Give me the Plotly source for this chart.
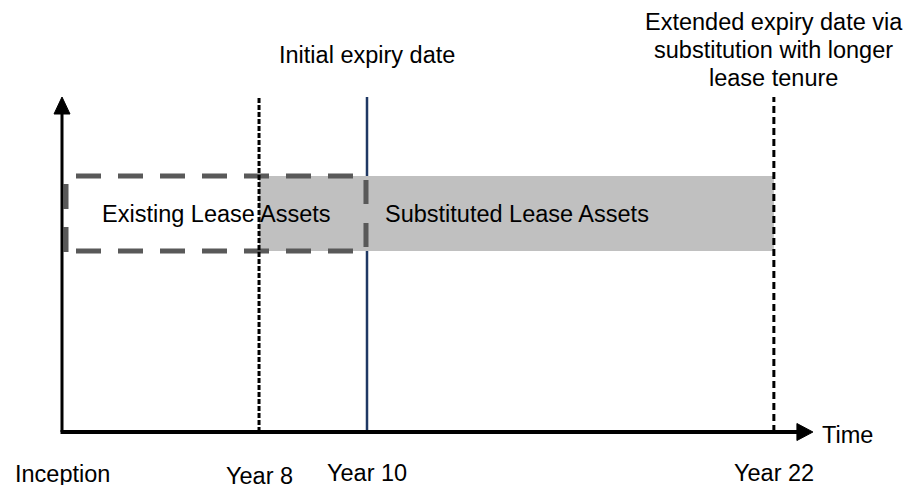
import plotly.graph_objects as go

# ---- data (schematic timeline units) ----
milestone_labels = ["Inception", "Year 8", "Year 10", "Year 22"]
milestone_pos = [0.0, 6.46, 10.0, 23.34]          # schematic time positions
label_levels = [-1.254, -1.313, -1.224, -1.224]

existing_span = [0.131, 9.967]     # existing lease assets (inception -> year 10)
substituted_span = [6.46, 23.34]   # substituted lease assets (year 8 -> year 22)
band_levels = [5.403, 7.642]       # lower / upper edge of the lease blocks
top_level = 10.0                   # height of the milestone lines
axis_end = 24.62

band_texts = ["Existing Lease Assets", "Substituted Lease Assets"]
band_text_x = [5.08, 10.52]
initial_text = "Initial expiry date"
extended_lines = ["Extended expiry date via", "substitution with longer", "lease tenure"]
extended_levels = [12.239, 11.403, 10.567]

FONT = dict(family="Liberation Sans, Arial, sans-serif", size=23.5, color="black")

fig = go.Figure()
fig.add_trace(go.Scatter(x=[0], y=[0], mode="markers", marker=dict(opacity=0),
                         showlegend=False, hoverinfo="skip"))

ux = 1 / 30.5   # one pixel in x units
uy = 1 / 33.5   # one pixel in y units

shapes = []
# navy initial expiry line (below band)
shapes.append(dict(type="line", xref="x", yref="y", x0=milestone_pos[2], x1=milestone_pos[2],
                   y0=0, y1=top_level, line=dict(color="#1F3864", width=2.5)))
# gray substituted band
shapes.append(dict(type="rect", xref="x", yref="y", x0=substituted_span[0], x1=substituted_span[1],
                   y0=band_levels[0], y1=band_levels[1], fillcolor="#C0C0C0", line=dict(width=0)))
# dashed existing box, drawn side by side
box_line = dict(color="#595959", width=5, dash="25px,17px")
x_l, x_r = existing_span
y_b, y_t = band_levels
shapes.append(dict(type="line", xref="x", yref="y", x0=x_l + 10 * ux, x1=x_r - 13 * ux,
                   y0=y_t, y1=y_t, line=box_line))
shapes.append(dict(type="line", xref="x", yref="y", x0=x_l + 10 * ux, x1=x_r - 13 * ux,
                   y0=y_b, y1=y_b, line=box_line))
shapes.append(dict(type="line", xref="x", yref="y", x0=x_l, x1=x_l,
                   y0=y_t - 8 * uy, y1=y_b - 1 * uy, line=dict(color="#595959", width=5, dash="25px,18px")))
shapes.append(dict(type="line", xref="x", yref="y", x0=x_r, x1=x_r,
                   y0=y_t - 4 * uy, y1=y_b + 3 * uy, line=dict(color="#595959", width=5, dash="24px,19px")))
# year 8 dotted line
shapes.append(dict(type="line", xref="x", yref="y", x0=milestone_pos[1], x1=milestone_pos[1],
                   y0=0, y1=top_level, line=dict(color="black", width=3, dash="5px,2px")))
# year 22 dashed line
shapes.append(dict(type="line", xref="x", yref="y", x0=milestone_pos[3], x1=milestone_pos[3],
                   y0=0, y1=top_level, line=dict(color="black", width=3, dash="7px,4px")))
# axes
shapes.append(dict(type="line", xref="x", yref="y", x0=0, x1=0, y0=0, y1=top_level - 15 * uy,
                   line=dict(color="black", width=3)))
shapes.append(dict(type="line", xref="x", yref="y", x0=-1.5 * ux, x1=axis_end - 15 * ux, y0=0, y1=0,
                   line=dict(color="black", width=4)))
shapes.append(dict(type="path", xref="x", yref="y",
                   path=f"M {-8*ux} {top_level-17*uy} L {8*ux} {top_level-17*uy} L 0 {top_level} Z",
                   fillcolor="black", line=dict(color="black", width=1)))
shapes.append(dict(type="path", xref="x", yref="y",
                   path=f"M {axis_end-16*ux} {8.5*uy} L {axis_end-16*ux} {-8.5*uy} L {axis_end} 0 Z",
                   fillcolor="black", line=dict(color="black", width=1)))

annotations = []
for lab, pos, lev in zip(milestone_labels, milestone_pos, label_levels):
    annotations.append(dict(x=pos, y=lev, text=lab, showarrow=False, font=FONT,
                            xanchor="center", yanchor="middle", borderpad=0))
annotations.append(dict(x=axis_end + 7 * ux, y=-0.09, text="Time", showarrow=False, font=FONT,
                        xanchor="left", yanchor="middle"))
band_mid = (band_levels[0] + band_levels[1]) / 2
annotations.append(dict(x=band_text_x[0], y=band_mid, text=band_texts[0], showarrow=False, font=FONT,
                        xanchor="center", yanchor="middle"))
annotations.append(dict(x=band_text_x[1], y=band_mid, text=band_texts[1], showarrow=False, font=FONT,
                        xanchor="left", yanchor="middle"))
annotations.append(dict(x=milestone_pos[2], y=11.254, text=initial_text, showarrow=False, font=FONT,
                        xanchor="center", yanchor="middle"))
for line_text, lev in zip(extended_lines, extended_levels):
    annotations.append(dict(x=milestone_pos[3], y=lev, text=line_text, showarrow=False, font=FONT,
                            xanchor="center", yanchor="middle"))

fig.update_layout(
    width=919, height=485, margin=dict(l=0, r=0, t=0, b=0),
    paper_bgcolor="white", plot_bgcolor="white",
    xaxis=dict(range=[-62 / 30.5, 857 / 30.5], visible=False, fixedrange=True),
    yaxis=dict(range=[-53 / 33.5, 432 / 33.5], visible=False, fixedrange=True),
    shapes=shapes, annotations=annotations, showlegend=False,
)
fig.write_html("out.html", config={"displayModeBar": False},
               post_script="document.body.style.margin='0';document.body.style.padding='0';")
